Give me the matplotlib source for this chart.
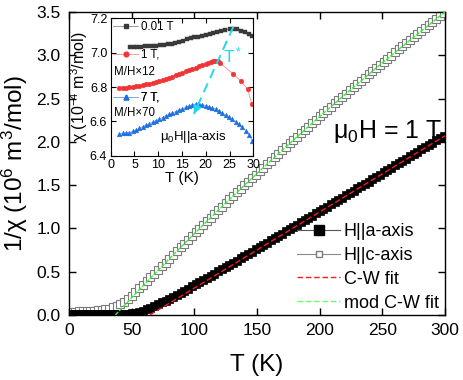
import numpy as np
import matplotlib
matplotlib.use("Agg")
import matplotlib.pyplot as plt
from matplotlib.lines import Line2D

plt.rcParams['font.family'] = ['Liberation Sans', 'DejaVu Sans']
plt.rcParams['mathtext.fontset'] = 'custom'
plt.rcParams['mathtext.rm'] = 'Liberation Sans'
plt.rcParams['mathtext.it'] = 'Liberation Sans:italic'
plt.rcParams['mathtext.bf'] = 'Liberation Sans:bold'

# ---------------- main panel data ----------------
T_main = np.arange(2, 301, 3)  # measurement grid 2..299 K

inv_chi_a = [
    0.015, 0.015, 0.015, 0.015, 0.015, 0.015, 0.015, 0.015, 0.015, 0.015,
    0.015, 0.015, 0.015, 0.015, 0.016, 0.017,
    0.020, 0.027, 0.037, 0.050, 0.066, 0.084, 0.103, 0.124, 0.145, 0.167,
    0.189, 0.212, 0.235, 0.258, 0.282, 0.306, 0.330, 0.354, 0.379, 0.404,
    0.429, 0.454, 0.479, 0.504, 0.529, 0.554, 0.579, 0.604, 0.629, 0.654,
    0.679,
    0.705, 0.731, 0.757, 0.783, 0.809, 0.835, 0.861, 0.887, 0.913, 0.939,
    0.965, 0.991, 1.017, 1.043, 1.069, 1.095, 1.121, 1.147, 1.173, 1.199,
    1.225, 1.252, 1.278, 1.305, 1.331, 1.357, 1.384, 1.410, 1.437, 1.463,
    1.489, 1.516, 1.542, 1.569, 1.595, 1.621, 1.648, 1.674, 1.701, 1.727,
    1.753, 1.780, 1.806, 1.833, 1.859, 1.885, 1.912, 1.938, 1.965, 1.991,
    2.017, 2.044, 2.070,
]

inv_chi_c = [
    0.040, 0.040, 0.041, 0.042, 0.043, 0.045, 0.048, 0.052, 0.057, 0.064,
    0.074, 0.088, 0.105, 0.127, 0.152, 0.185, 0.222, 0.266, 0.310, 0.352,
    0.392, 0.434, 0.476, 0.520,
    0.561, 0.605, 0.649, 0.693, 0.737, 0.781, 0.824, 0.868, 0.911, 0.954,
    0.997, 1.040, 1.082, 1.125, 1.167, 1.209, 1.251, 1.293, 1.335, 1.376,
    1.418, 1.459, 1.500, 1.541, 1.582, 1.622, 1.663, 1.703, 1.744, 1.784,
    1.824, 1.863, 1.903, 1.943, 1.982, 2.021, 2.061, 2.100, 2.138, 2.177,
    2.216, 2.254, 2.293, 2.331, 2.369, 2.407, 2.445, 2.482, 2.520, 2.557,
    2.595, 2.632, 2.669, 2.706, 2.743, 2.779, 2.816, 2.852, 2.889, 2.925,
    2.961, 2.997, 3.033, 3.069, 3.104, 3.139, 3.175, 3.210, 3.245, 3.280,
    3.315, 3.350, 3.385, 3.419, 3.454, 3.488,
]

# Curie-Weiss fit (straight line, endpoints)
cw_T = [64.6, 300]
cw_y = [0.0, 2.07]

# modified Curie-Weiss fit
mcw_T = [37, 40, 45, 50, 60, 70, 80, 90, 100, 120, 140, 160, 180, 200, 225, 250, 275, 300]
mcw_y = [0.0, 0.046, 0.123, 0.200, 0.352, 0.501, 0.649, 0.795, 0.940, 1.223,
         1.500, 1.770, 2.034, 2.293, 2.607, 2.913, 3.210, 3.500]

# ---------------- inset data ----------------
T_001 = [4.0, 4.8, 5.6, 6.4, 7.2, 8.0, 8.8, 9.6, 10.4, 11.2, 12.0, 12.8, 13.6,
         14.4, 15.2, 16.0, 16.8, 17.6, 18.4, 19.2, 20.0, 20.8, 21.6, 22.4,
         23.2, 24.0, 25.0, 25.8, 26.6, 27.4, 28.2, 29.0, 29.8]
chi_001 = [7.035, 7.035, 7.035, 7.035, 7.036, 7.037, 7.038, 7.040, 7.042, 7.045,
           7.048, 7.052, 7.057, 7.063, 7.070, 7.077, 7.083, 7.089, 7.094, 7.099,
           7.104, 7.109, 7.114, 7.120, 7.126, 7.132, 7.138, 7.140, 7.136, 7.128,
           7.118, 7.108, 7.095]

T_1 = [1.8, 2.5, 3.2, 3.9, 4.6, 5.3, 6.0, 6.7, 7.4, 8.1, 8.8, 9.5, 10.2, 10.9,
       11.6, 12.3, 13.0, 13.7, 14.4, 15.1, 15.8, 16.5, 17.2, 17.9, 18.6, 19.3,
       20.0, 20.5, 21.0, 21.5, 22.0, 22.5, 23.0, 25.8, 27.4, 28.8, 29.7]
chi_1 = [6.792, 6.794, 6.796, 6.798, 6.801, 6.804, 6.807, 6.811, 6.815, 6.819,
         6.824, 6.829, 6.835, 6.841, 6.847, 6.854, 6.861, 6.868, 6.875, 6.883,
         6.891, 6.899, 6.906, 6.913, 6.920, 6.927, 6.934, 6.940, 6.946, 6.950,
         6.951, 6.950, 6.940, 6.875, 6.835, 6.788, 6.700]

T_7 = [1.8, 2.5, 3.2, 3.9, 4.6, 5.3, 6.0, 6.7, 7.4, 8.1, 8.8, 9.5, 10.2, 10.9,
       11.6, 12.3, 13.0, 13.7, 14.4, 15.1, 15.8, 16.5, 17.2, 17.9, 18.6, 19.3,
       20.0, 20.7, 21.4, 22.1, 22.8, 23.5, 24.2, 24.9, 25.6, 26.3, 27.0, 27.7,
       28.4, 29.1, 29.8]
chi_7 = [6.528, 6.531, 6.531, 6.534, 6.541, 6.550, 6.559, 6.568, 6.577, 6.586,
         6.595, 6.604, 6.613, 6.622, 6.631, 6.640, 6.649, 6.657, 6.665, 6.673,
         6.682, 6.690, 6.696, 6.700, 6.701, 6.698, 6.692, 6.686, 6.679, 6.670,
         6.659, 6.647, 6.635, 6.623, 6.611, 6.598, 6.584, 6.566, 6.546, 6.522,
         6.486]

# T* arrow (tail, head) in inset data coordinates
tstar_T = [25.8, 17.5]
tstar_chi = [7.151, 6.643]

# ---------------- figure ----------------
fig = plt.figure(figsize=(4.63, 3.80), dpi=100)
ax = fig.add_axes([69/463, 65/380, 376/463, 303/380])

ax.plot(T_main, inv_chi_c, ls='-', lw=0.6, color='#9a9a9a', marker='s', ms=5.6,
        mfc='white', mec='#7c7c7c', mew=0.8, zorder=2)
ax.plot(T_main, inv_chi_a, ls='-', lw=0.6, color='#555555', marker='s', ms=6.2,
        mfc='black', mec='black', mew=0.5, zorder=3)
ax.plot(cw_T, cw_y, ls=(0, (4, 2)), lw=1.0, color='#ff1a1a', zorder=4)
ax.plot(mcw_T, mcw_y, ls=(0, (3, 1)), lw=1.0, color='#33ee33', zorder=4)

ax.set_xlim(0, 300)
ax.set_ylim(0, 3.5)
ax.set_xticks([0, 50, 100, 150, 200, 250, 300])
ax.set_yticks([0.0, 0.5, 1.0, 1.5, 2.0, 2.5, 3.0, 3.5])
ax.set_yticklabels(['0.0', '0.5', '1.0', '1.5', '2.0', '2.5', '3.0', '3.5'])
ax.tick_params(direction='in', length=5, width=1.0, top=True, right=True,
               labelsize=12.5, pad=6)
for s in ax.spines.values():
    s.set_linewidth(1.0)

ax.set_xlabel('T (K)', fontsize=17.5)
ax.xaxis.set_label_coords(0.5, -0.13)
ax.set_ylabel('1/χ (10$^6$ m$^3$/mol)', fontsize=17.5)
ax.yaxis.set_label_coords(-0.105, 0.5)

ax.text(298, 2.045, 'μ$_0$H = 1 T', fontsize=18, ha='right', va='baseline')

handles = [
    Line2D([], [], color='#555555', lw=0.8, marker='s', ms=7, mfc='black', mec='black'),
    Line2D([], [], color='#8a8a8a', lw=0.8, marker='s', ms=5, mfc='white', mec='#7c7c7c'),
    Line2D([], [], color='#ff1a1a', lw=1.0, ls=(0, (4, 2))),
    Line2D([], [], color='#66ff66', lw=1.0, ls=(0, (4, 2))),
]
labels = ['H||a-axis', 'H||c-axis', 'C-W fit', 'mod C-W fit']
leg = ax.legend(handles, labels, loc='upper left', bbox_to_anchor=(297/463, 1 - 223/380),
                bbox_transform=fig.transFigure, frameon=False, fontsize=13,
                handlelength=2.4, handletextpad=0.2, labelspacing=0.38,
                borderpad=0, borderaxespad=0, numpoints=1)

# ---------------- inset ----------------
axi = fig.add_axes([110.7/463, 1 - 155.7/380, 142.6/463, 137.4/380])
axi.set_facecolor('white')
axi.plot(T_001, chi_001, ls='-', lw=0.6, color='#8c8c8c', marker='s', ms=2.6,
         mfc='#3a3a3a', mec='#3a3a3a', mew=0.3)
axi.plot(T_1, chi_1, ls='-', lw=0.6, color='#ff8a8a', marker='o', ms=3.4,
         mfc='#f03535', mec='#f03535', mew=0.3)
axi.plot(T_7, chi_7, ls='-', lw=0.6, color='#7aa8f0', marker='^', ms=3.4,
         mfc='#1f6fe0', mec='#1f6fe0', mew=0.3)

# T* dashed arrow: dashed shaft plus arrowhead at the lower end
axi.plot(tstar_T, tstar_chi, color='#22d8f0', lw=1.4, ls=(0, (5, 3)), zorder=5)
axi.annotate('', xy=(tstar_T[1], tstar_chi[1]),
             xytext=(tstar_T[1] + 0.12 * (tstar_T[0] - tstar_T[1]),
                     tstar_chi[1] + 0.12 * (tstar_chi[0] - tstar_chi[1])),
             arrowprops=dict(arrowstyle='-|>', color='#22d8f0', lw=1.2,
                             mutation_scale=12, shrinkA=0, shrinkB=0), zorder=5)
axi.text(25.6, 6.985, 'T$^*$', color='#22d8f0', fontsize=12.5, ha='center', va='center')

axi.set_xlim(0, 30)
axi.set_ylim(6.4, 7.2)
axi.set_xticks([0, 5, 10, 15, 20, 25, 30])
axi.set_yticks([6.4, 6.6, 6.8, 7.0, 7.2])
axi.set_yticklabels(['6.4', '6.6', '6.8', '7.0', '7.2'])
axi.tick_params(direction='in', length=3.5, width=0.8, top=True, right=True,
                labelsize=9, pad=2.5)
for s in axi.spines.values():
    s.set_linewidth(0.8)
axi.set_xlabel('T (K)', fontsize=11, labelpad=0)
axi.set_ylabel('χ (10$^{-4}$ m$^3$/mol)', fontsize=11.5, labelpad=0)

h001 = Line2D([], [], color='#8c8c8c', lw=0.6, marker='s', ms=2.6, mfc='#3a3a3a', mec='#3a3a3a')
h1 = Line2D([], [], color='#ff8a8a', lw=0.6, marker='o', ms=3.4, mfc='#f03535', mec='#f03535')
h7 = Line2D([], [], color='#7aa8f0', lw=0.6, marker='^', ms=3.4, mfc='#1f6fe0', mec='#1f6fe0')
for h, lab, yy in [(h001, '0.01 T', 0.939), (h1, '1 T,', 0.733), (h7, '7 T,', 0.42)]:
    lg = axi.legend([h], [lab], loc='center left', bbox_to_anchor=(0.016, yy),
                    frameon=False, fontsize=8.3, handlelength=2.2, handletextpad=0.25,
                    borderpad=0, borderaxespad=0, numpoints=1)
    axi.add_artist(lg)
axi.text(0.023, 0.611, 'M/H×12', transform=axi.transAxes, fontsize=8.3, va='center', ha='left')
axi.text(0.023, 0.311, 'M/H×70', transform=axi.transAxes, fontsize=8.3, va='center', ha='left')
axi.text(0.346, 0.138, 'μ$_0$H||a-axis', transform=axi.transAxes, fontsize=9.5,
         va='center', ha='left')

fig.savefig('out.png', dpi=100)
